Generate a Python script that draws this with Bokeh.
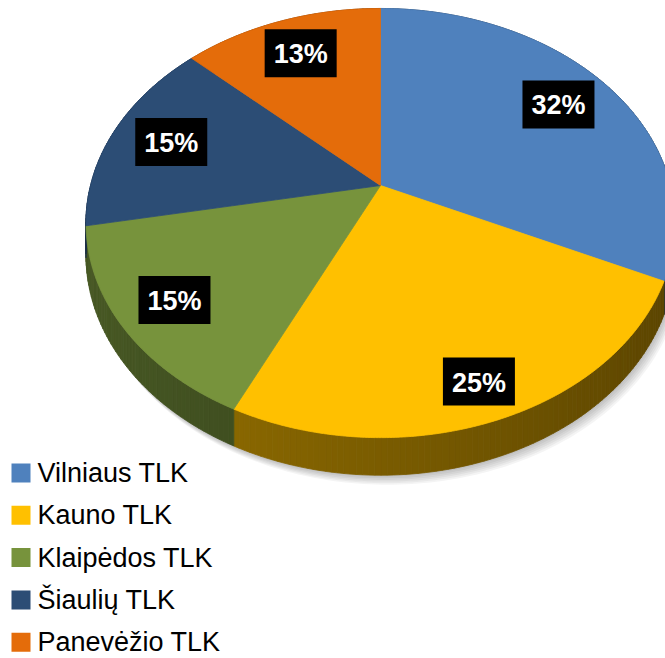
import numpy as np
from bokeh.plotting import figure
from bokeh.models import Range1d
from bokeh.core.properties import value
from bokeh.embed import file_html
from bokeh.resources import INLINE

# ---- data ----
categories = ["Vilniaus TLK", "Kauno TLK", "Klaipėdos TLK", "Šiaulių TLK", "Panevėžio TLK"]
shares = [32, 25, 15, 15, 13]
labels = ["32%", "25%", "15%", "15%", "13%"]
colors = ["#4F81BD", "#FFC000", "#77933C", "#2C4D75", "#E46C0A"]

# ---- geometry / style ----
CX, CY = 380.0, 185.0      # projected pie centre (screen px)
A, B = 290.0, 208.0        # horizontal / depth radii
K = 0.175                  # perspective strength
DEPTH = 31.0               # thickness of the disc
label_r = [0.78, 0.86, 0.82, 0.78, 0.78]
FONT = "Liberation Sans"
W, H = 665, 658


def proj(r, t):
    u = r * np.cos(t)
    v = r * np.sin(t)
    d = 1 + K * v
    return CX + A * u / d, CY - B * v / d


def drop(t):
    return DEPTH / (1 + K * np.sin(t))


def shade(hex_color, f):
    h = hex_color.lstrip("#")
    rgb = [int(h[i:i + 2], 16) for i in (0, 2, 4)]
    return "#%02x%02x%02x" % tuple(max(0, min(255, int(round(c * f)))) for c in rgb)


total = float(sum(shares))
cum = np.concatenate([[0.0], np.cumsum(shares) / total])
starts = np.pi / 2 - 2 * np.pi * cum[:-1]
ends = np.pi / 2 - 2 * np.pi * cum[1:]

p = figure(width=W, height=H, x_range=Range1d(0, W), y_range=Range1d(H, 0),
           output_backend="svg", toolbar_location=None, min_border=0)
p.axis.visible = False
p.grid.visible = False
p.outline_line_color = None
p.background_fill_color = "white"
p.border_fill_color = "white"

# ---- shadow ----
tt = np.linspace(0, 2 * np.pi, 361)
bx, by = proj(1.0, tt)
by = by + drop(tt)
for i in range(1, 7):
    p.patch(bx + i * 1.2, by + i * 1.6, fill_color="#000000", fill_alpha=0.045, line_color=None)

# ---- sides ----
sxs, sys, scs = [], [], []
for s, e, c in zip(starts, ends, colors):
    n = max(2, int(abs(s - e) / np.radians(1.0)))
    ts = np.linspace(s, e, n + 1)
    for t0, t1 in zip(ts[:-1], ts[1:]):
        x0, y0 = proj(1.0, t0)
        x1, y1 = proj(1.0, t1)
        tm = 0.5 * (t0 + t1)
        f = 0.48 - 0.13 * np.cos(tm)
        col = shade(c, f)
        sxs.append([x0, x1, x1, x0])
        sys.append([y0, y1, y1 + drop(t1), y0 + drop(t0)])
        scs.append(col)
p.patches(sxs, sys, fill_color=scs, line_color=scs, line_width=0.8)

# ---- top surface ----
txs, tys = [], []
for s, e in zip(starts, ends):
    ts = np.linspace(s, e, 200)
    x, y = proj(1.0, ts)
    txs.append([CX] + list(x))
    tys.append([CY] + list(y))
p.patches(txs, tys, fill_color=colors, line_color=colors, line_width=0.8)

# ---- data labels ----
mids = 0.5 * (starts + ends)
lx, ly = proj(np.array(label_r), mids)
p.rect(x=lx, y=ly, width=72, height=48, fill_color="black", line_color=None)
p.text(x=lx, y=ly + 1, text=labels, text_color="white", text_font=value(FONT),
       text_font_size="27px", text_font_style="bold", text_align="center",
       text_baseline="middle")

# ---- legend ----
p.quad(left=0, right=230, top=454, bottom=H, fill_color="white", line_color=None)
ly_leg = [472.5 + 42.3 * i for i in range(len(categories))]
p.rect(x=[20.5] * len(categories), y=ly_leg, width=19, height=19,
       fill_color=colors, line_color=None)
p.text(x=[37] * len(categories), y=ly_leg, text=categories,
       text_color="black", text_font=value(FONT), text_font_size="27px",
       text_align="left", text_baseline="middle")

open("out.html", "w").write(file_html(p, INLINE))
